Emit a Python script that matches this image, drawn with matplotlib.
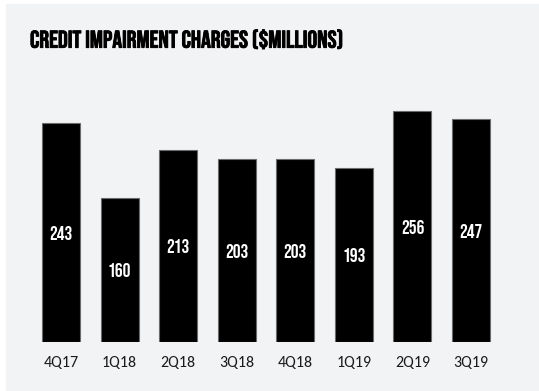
import matplotlib.pyplot as plt
from matplotlib.patches import Rectangle
import matplotlib.patheffects as pe

quarters = ['4Q17', '1Q18', '2Q18', '3Q18', '4Q18', '1Q19', '2Q19', '3Q19']
charges = [243, 160, 213, 203, 203, 193, 256, 247]

NARROW = ['Bebas Neue', 'Oswald', 'Archivo Narrow', 'DejaVu Sans']
BODY = ['Carlito', 'Open Sans', 'DejaVu Sans']

W, H = 539, 391
fig = plt.figure(figsize=(W / 100, H / 100), dpi=100)
fig.patch.set_facecolor('white')
# light grey panel behind everything
fig.patches.append(Rectangle((6 / W, 0), 1 - 6 / W, (H - 4) / H,
                             transform=fig.transFigure, color='#f2f3f5', zorder=-5))

# axes placed in pixels: bar centres 61..471 px, baseline at y=342 px
left, right = 31.7, 500.3
bottom_px, top_px = 342, 342 - 300 * 0.901
ax = fig.add_axes([left / W, (H - bottom_px) / H, (right - left) / W, (bottom_px - top_px) / H])
ax.set_facecolor('none')

x = range(len(quarters))
ax.bar(x, charges, width=0.65, color='black', edgecolor='#6b6b6b', linewidth=0.8)
for i, v in zip(x, charges):
    ax.text(i, v / 2, str(v), ha='center', va='center', color='white',
            family=NARROW, weight='bold', fontsize=14)

ax.set_xlim(-0.5, len(quarters) - 0.5)
ax.set_ylim(0, 300)
ax.set_xticks(list(x))
ax.set_xticklabels(quarters, family=BODY, fontsize=11.5, color='#1a1a1a')
ax.tick_params(axis='x', length=0, pad=10)
ax.set_yticks([])
for s in ax.spines.values():
    s.set_visible(False)

fig.text(30 / W, 1 - 39 / H, 'CREDIT IMPAIRMENT CHARGES ($MILLIONS)', ha='left', va='center',
         family=NARROW, weight='bold', fontsize=17.5, color='black',
         path_effects=[pe.withStroke(linewidth=0.6, foreground='black')])

fig.savefig('out.png', dpi=100)
